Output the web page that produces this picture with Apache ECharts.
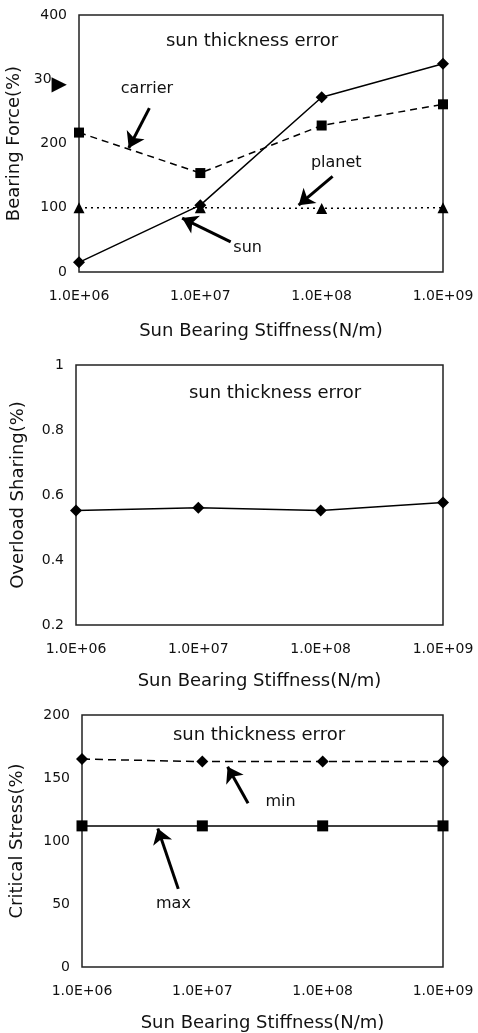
<!DOCTYPE html>
<html>
<head>
<meta charset="utf-8">
<script src="https://cdn.jsdelivr.net/npm/echarts@6/dist/echarts.min.js"></script>
<style>
  html, body { margin: 0; padding: 0; background: #fff; }
  #chart { width: 478px; height: 1033px; }
</style>
</head>
<body>
<div id="chart"></div>
<script>
// x categories (sun bearing stiffness)
const categories = ['1.0E+06', '1.0E+07', '1.0E+08', '1.0E+09'];

// chart 1: bearing force (%)
const sunForce = [15, 104, 272, 324];
const carrierForce = [217, 154, 228, 261];
const planetForce = [100, 100, 99, 100];

// chart 2: overload sharing
const overloadSharing = [0.552, 0.561, 0.552, 0.577];

// chart 3: critical stress (%)
const stressMin = [165, 163, 163, 163];
const stressMax = [112, 112, 112, 112];

// arrow annotations, in data units: label at, arrow from -> to
const forceNotes = [
  { name: 'carrier', at: [0.56, 285], from: [0.58, 255], to: [0.41, 193] },
  { name: 'planet', at: [2.12, 170], from: [2.09, 149], to: [1.81, 104] },
  { name: 'sun', at: [1.39, 37], from: [1.25, 47], to: [0.85, 84] }
];
const stressNotes = [
  { name: 'min', at: [1.65, 131], from: [1.38, 130], to: [1.21, 159] },
  { name: 'max', at: [0.76, 50], from: [0.80, 62], to: [0.63, 110] }
];

const FONT = 'DejaVu Sans';
const INK = '#111';

const pairs = arr => arr.map((v, i) => [i, v]);

function notesSeries(notes, idx) {
  return {
    type: 'line', xAxisIndex: idx, yAxisIndex: idx, data: [], silent: true,
    markLine: {
      silent: true, symbol: ['none', 'arrow'], symbolSize: 15,
      lineStyle: { color: '#000', width: 3, type: 'solid' },
      label: { show: false },
      data: notes.map(n => [{ coord: n.from }, { coord: n.to }])
    },
    markPoint: {
      silent: true, symbol: 'rect', symbolSize: 0,
      label: { show: true, position: 'inside', color: INK, fontFamily: FONT, fontSize: 16, formatter: p => p.name },
      data: notes.map(n => ({ name: n.name, coord: n.at }))
    }
  };
}

function xAxis(idx, gap) {
  return {
    gridIndex: idx, type: 'value', min: 0, max: 3, interval: 1,
    name: 'Sun Bearing Stiffness(N/m)', nameLocation: 'middle', nameGap: gap,
    nameTextStyle: { color: INK, fontFamily: FONT, fontSize: 18 },
    axisLine: { show: false }, axisTick: { show: false }, splitLine: { show: false },
    axisLabel: { color: INK, fontFamily: FONT, fontSize: 14, margin: 17, formatter: v => categories[v] }
  };
}

function yAxis(idx, name, min, max, interval, gap, fmt) {
  return {
    gridIndex: idx, type: 'value', min: min, max: max, interval: interval,
    name: name, nameLocation: 'middle', nameGap: gap, nameRotate: 90,
    nameTextStyle: { color: INK, fontFamily: FONT, fontSize: 18 },
    axisLine: { show: false }, axisTick: { show: false }, splitLine: { show: false },
    axisLabel: {
      color: INK, fontFamily: FONT, fontSize: 14, margin: 12, formatter: fmt,
      rich: { t: { fontSize: 20, color: '#000', fontFamily: FONT, padding: [12, 0, 0, 0] } }
    }
  };
}

const line = (idx, data, symbol, size, dash) => ({
  type: 'line', xAxisIndex: idx, yAxisIndex: idx, data: pairs(data),
  symbol: symbol, symbolSize: size, clip: false,
  itemStyle: { color: '#000' },
  lineStyle: { color: '#000', width: 1.5, type: dash }
});

const titleAt = (x, y) => ({
  text: 'sun thickness error', left: x, top: y, textAlign: 'center',
  textStyle: { color: INK, fontFamily: FONT, fontSize: 18, fontWeight: 'normal' }
});

const box = (left, top, width, height) => ({
  left: left, top: top, width: width, height: height,
  outerBoundsMode: 'none', containLabel: false,
  show: true, borderColor: '#222', borderWidth: 1.5
});

const chart = echarts.init(document.getElementById('chart'));
chart.setOption({
  animation: false,
  title: [titleAt(247, 27), titleAt(270, 379), titleAt(254, 721)],
  grid: [box(79, 15, 364, 257), box(76, 365, 367, 260), box(82, 715, 361, 252)],
  xAxis: [xAxis(0, 50), xAxis(1, 47), xAxis(2, 47)],
  yAxis: [
    yAxis(0, 'Bearing Force(%)', 0, 400, 100, 52, v => (v === 300 ? '30{t|▶}' : String(v))),
    yAxis(1, 'Overload Sharing(%)', 0.2, 1, 0.2, 49, v => (v === 1 ? '1' : v.toFixed(1))),
    yAxis(2, 'Critical Stress(%)', 0, 200, 50, 56, v => String(v))
  ],
  series: [
    line(0, sunForce, 'diamond', 12, 'solid'),
    line(0, carrierForce, 'rect', 10, [7, 5]),
    line(0, planetForce, 'triangle', 11, [2, 4]),
    notesSeries(forceNotes, 0),
    line(1, overloadSharing, 'diamond', 12, 'solid'),
    line(2, stressMin, 'diamond', 12, [8, 5]),
    line(2, stressMax, 'rect', 11, 'solid'),
    notesSeries(stressNotes, 2)
  ]
});
</script>
</body>
</html>
